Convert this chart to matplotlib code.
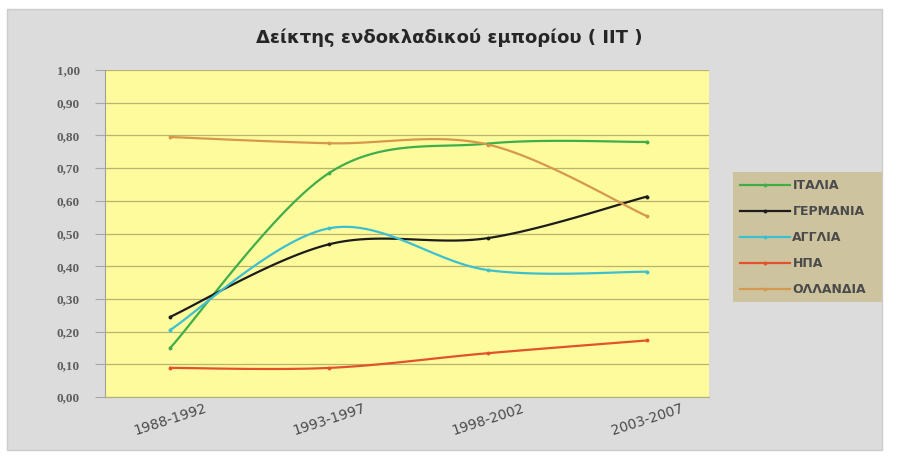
import matplotlib
matplotlib.use('Agg')
import matplotlib.pyplot as plt
from matplotlib.patches import Rectangle
from matplotlib.lines import Line2D
import numpy as np

periods = ['1988-1992', '1993-1997', '1998-2002', '2003-2007']
ytick_labels = ['0,00', '0,10', '0,20', '0,30', '0,40', '0,50',
                '0,60', '0,70', '0,80', '0,90', '1,00']

italia = [0.15, 0.685, 0.775, 0.78]
germania = [0.245, 0.467, 0.486, 0.613]
anglia = [0.205, 0.516, 0.388, 0.383]
hpa = [0.089, 0.089, 0.134, 0.173]
ollandia = [0.795, 0.776, 0.772, 0.553]

series = [
    ('ΙΤΑΛΙΑ', italia, '#3fae49'),
    ('ΓΕΡΜΑΝΙΑ', germania, '#1c1c1c'),
    ('ΑΓΓΛΙΑ', anglia, '#3cc0d0'),
    ('ΗΠΑ', hpa, '#e2532b'),
    ('ΟΛΛΑΝΔΙΑ', ollandia, '#d6984c'),
]


def smooth(x, y, n=40):
    # Catmull-Rom style bezier, roughly what Excel's "smoothed line" does
    x = np.asarray(x, float)
    y = np.asarray(y, float)
    px = np.concatenate([[x[0]], x, [x[-1]]])
    py = np.concatenate([[y[0]], y, [y[-1]]])
    xs, ys = [], []
    t = np.linspace(0, 1, n)
    for i in range(1, len(px) - 2):
        p0 = np.array([px[i], py[i]])
        p3 = np.array([px[i + 1], py[i + 1]])
        c1 = p0 + (p3 - np.array([px[i - 1], py[i - 1]])) / 6.0
        c2 = p3 - (np.array([px[i + 2], py[i + 2]]) - p0) / 6.0
        b = ((1 - t) ** 3)[:, None] * p0 + (3 * (1 - t) ** 2 * t)[:, None] * c1 \
            + (3 * (1 - t) * t ** 2)[:, None] * c2 + (t ** 3)[:, None] * p3
        xs.extend(b[:, 0])
        ys.extend(b[:, 1])
    return np.array(xs), np.array(ys)


W, H = 898, 457
fig = plt.figure(figsize=(W / 100, H / 100), dpi=100)
fig.patch.set_facecolor('white')

# grey chart area + legend box (behind everything)
bg = fig.add_axes([0, 0, 1, 1], zorder=-5)
bg.set_xlim(0, W)
bg.set_ylim(H, 0)
bg.axis('off')
bg.add_patch(Rectangle((7, 9), 875, 441, facecolor='#dcdcdc',
                       edgecolor='#cccccc', linewidth=1))
bg.add_patch(Rectangle((733, 172), 149, 130, facecolor='#cdc49f',
                       edgecolor='none'))

ax = fig.add_axes([105 / W, 1 - 397 / H, 604 / W, 327 / H])
ax.set_facecolor('#fefb9c')

xpos = np.arange(len(periods))
for name, vals, col in series:
    sx, sy = smooth(xpos, vals)
    ax.plot(sx, sy, color=col, lw=1.6, zorder=3)
    ax.plot(xpos, vals, linestyle='none', marker='o', ms=2.8, color=col,
            markeredgewidth=0, zorder=4)

ax.set_xlim(-0.41, 3.39)
ax.set_ylim(0, 1.0)
ax.set_yticks(np.arange(0, 1.01, 0.1))
ax.set_yticklabels(ytick_labels, fontfamily='Liberation Serif',
                   fontweight='bold', fontsize=9.5, color='#5e5e5e')
ax.set_xticks(xpos)
ax.set_xticklabels(periods, rotation=18, fontsize=10, color='#4a4a4a',
                   fontfamily='DejaVu Sans')
ax.tick_params(axis='y', length=7, color='#a8a8a8', pad=11)
ax.tick_params(axis='x', length=0, pad=3)
ax.grid(axis='y', color='#b9b36e', linewidth=0.9)
ax.set_axisbelow(True)
for s in ['top', 'right']:
    ax.spines[s].set_visible(False)
ax.spines['left'].set_color('#a0a0a0')
ax.spines['bottom'].set_color('#b0b07a')

fig.text(449 / W, 1 - 38 / H, 'Δείκτης ενδοκλαδικού εμπορίου ( ΙΙΤ )',
         ha='center', va='center', fontsize=13, fontweight='bold',
         color='#262626', fontfamily='DejaVu Sans')

handles = [Line2D([0], [0], color=c, lw=1.6, marker='o', ms=2.8,
                  markeredgewidth=0) for _, _, c in series]
leg = fig.legend(handles, [s[0] for s in series],
                 loc='upper left', bbox_to_anchor=(733 / W, 1 - 172 / H),
                 frameon=False, fontsize=9,
                 handlelength=4.0, handletextpad=0.2, labelspacing=1.05,
                 borderpad=0.55, borderaxespad=0)
for t in leg.get_texts():
    t.set_color('#4a4a4a')
    t.set_fontweight('bold')

fig.savefig('out.png', dpi=100)
